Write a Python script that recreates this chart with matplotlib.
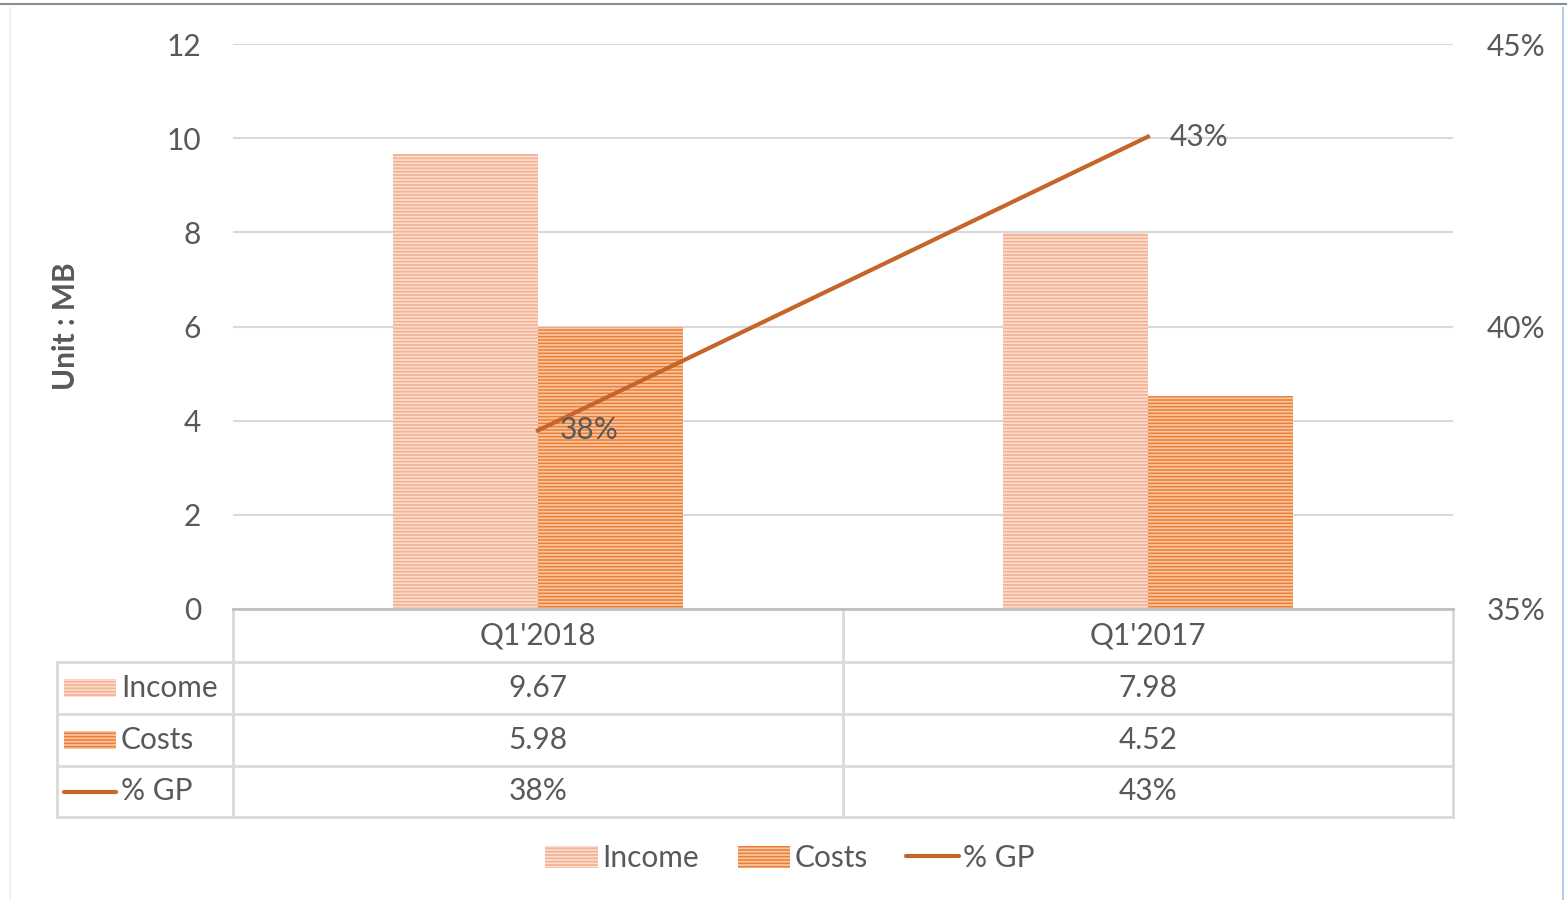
import numpy as np
import matplotlib
matplotlib.use("Agg")
import matplotlib.pyplot as plt
from matplotlib.patches import Rectangle
from matplotlib.lines import Line2D
from matplotlib.transforms import blended_transform_factory

# data
periods = ["Q1'2018", "Q1'2017"]
income = [9.67, 7.98]
costs = [5.98, 4.52]
gp = [0.3816, 0.4336]
gp_labels = ["38%", "43%"]

plt.rcParams['font.family'] = ['Lato', 'DejaVu Sans']
plt.rcParams['hatch.linewidth'] = 1.3
txt = '#595959'
grid = '#D9D9D9'
inc_face, inc_hatch = '#FBE0D2', '#F4B296'
cst_face, cst_hatch = '#ED7D31', '#F9C6A4'
line_c = '#C5652A'
fs = 21.5

fig = plt.figure(figsize=(15.67, 9), dpi=100)
ax = fig.add_axes([233/1567, 1-609/900, 1220/1567, 565/900])
ax2 = ax.twinx()

x = np.arange(len(periods))
w = 0.238
ax.bar(x - w/2, income, w, facecolor=inc_face, edgecolor=inc_hatch, hatch='-----', linewidth=0, zorder=2)
ax.bar(x + w/2, costs, w, facecolor=cst_face, edgecolor=cst_hatch, hatch='-----', linewidth=0, zorder=2)
ax.set_xlim(-0.5, 1.5)
ax.set_ylim(0, 12)
ax.set_yticks(range(0, 13, 2))
ax.grid(axis='y', color=grid, linewidth=1.5, zorder=0)
ax.set_axisbelow(True)
ax.tick_params(axis='y', length=0, pad=23, labelsize=fs, labelcolor=txt)
ax.set_xticks([])
for s in ['top', 'right', 'left']:
    ax.spines[s].set_visible(False)
ax.spines['bottom'].set_color('#BFBFBF')
ax.spines['bottom'].set_linewidth(2)
ax.set_ylabel('Unit : MB', fontsize=fs, fontweight='bold', color=txt, labelpad=62)

ax2.plot(x, gp, color=line_c, linewidth=3, zorder=3)
ax2.set_ylim(0.35, 0.45)
ax2.set_yticks([0.35, 0.40, 0.45])
ax2.set_yticklabels(['35%', '40%', '45%'])
ax2.tick_params(axis='y', length=0, pad=24, labelsize=fs, labelcolor=txt)
for s in ['top', 'right', 'left', 'bottom']:
    ax2.spines[s].set_visible(False)
for xi, v, lab in zip(x, gp, gp_labels):
    ax2.text(xi + 0.035, v, lab, fontsize=fs, color=txt, va='center', ha='left')

# data table under the axis
tr = blended_transform_factory(ax.transData, ax.transAxes)
rows_y = [0, -53/565, -105/565, -157/565, -208/565]
left_x = -0.5 - 176/610
lc = dict(color=grid, linewidth=2, transform=tr, clip_on=False)
for yy in rows_y[1:]:
    ax.add_line(Line2D([left_x, 1.5], [yy, yy], **lc))
for xx in [-0.5, 0.5, 1.5]:
    ax.add_line(Line2D([xx, xx], [0, rows_y[-1]], **lc))
ax.add_line(Line2D([left_x, left_x], [rows_y[1], rows_y[-1]], **lc))

centers = [(rows_y[i] + rows_y[i+1]) / 2 for i in range(4)]
for xi, p in zip(x, periods):
    ax.text(xi, centers[0], p, transform=tr, ha='center', va='center', fontsize=fs, color=txt)
row_vals = [[f"{v:.2f}" for v in income], [f"{v:.2f}" for v in costs], gp_labels]
row_names = ['Income', 'Costs', '% GP']
for r, (name, vals) in enumerate(zip(row_names, row_vals)):
    cy = centers[r + 1]
    for xi, v in zip(x, vals):
        ax.text(xi, cy, v, transform=tr, ha='center', va='center', fontsize=fs, color=txt)
    ax.text(left_x + 64/610, cy, name, transform=tr, ha='left', va='center', fontsize=fs, color=txt)

kx, kw, kh = left_x + 7/610, 52/610, 18/565
ax.add_patch(Rectangle((kx, centers[1] - kh/2), kw, kh, transform=tr, clip_on=False,
                       facecolor=inc_face, edgecolor=inc_hatch, hatch='-----', linewidth=0))
ax.add_patch(Rectangle((kx, centers[2] - kh/2), kw, kh, transform=tr, clip_on=False,
                       facecolor=cst_face, edgecolor=cst_hatch, hatch='-----', linewidth=0))
ax.add_line(Line2D([kx, kx + kw], [centers[3], centers[3]], color=line_c, linewidth=3,
                   solid_capstyle='round', transform=tr, clip_on=False))

# bottom legend
handles = [Rectangle((0, 0), 1, 1, facecolor=inc_face, edgecolor=inc_hatch, hatch='-----', linewidth=0),
           Rectangle((0, 0), 1, 1, facecolor=cst_face, edgecolor=cst_hatch, hatch='-----', linewidth=0),
           Line2D([0], [0], color=line_c, linewidth=3, solid_capstyle='round')]
fig.legend(handles, row_names, loc='center', bbox_to_anchor=(790/1567, 1-858/900), ncol=3,
           frameon=False, fontsize=fs, labelcolor=txt, handlelength=1.75, handleheight=0.75,
           handletextpad=0.15, columnspacing=1.3)

# chart frame
fig.add_artist(Line2D([0, 1], [1-4/900, 1-4/900], color='#8C8C8C', linewidth=1.5, transform=fig.transFigure))
fig.add_artist(Line2D([10/1567, 10/1567], [0, 1-8/900], color='#EAF1FA', linewidth=1.5, transform=fig.transFigure))
fig.add_artist(Line2D([1563/1567, 1563/1567], [0, 1-8/900], color='#B4CDEB', linewidth=1.5, transform=fig.transFigure))

fig.savefig('out.png', dpi=100)
